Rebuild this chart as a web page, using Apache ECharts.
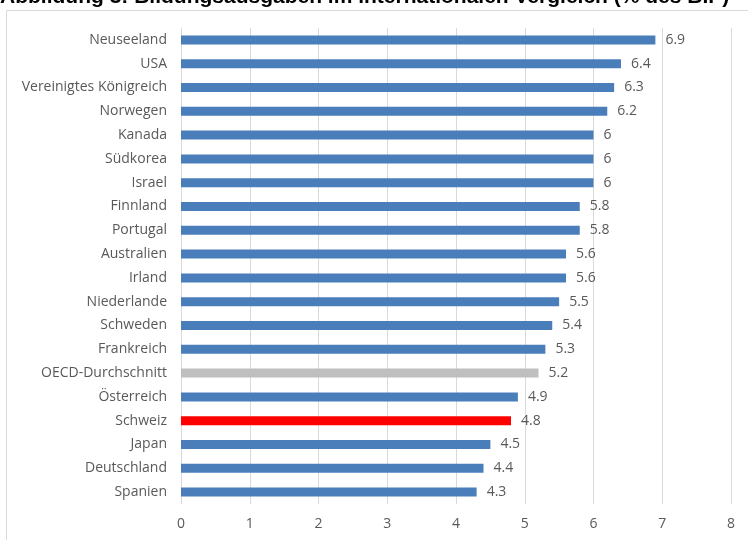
<!DOCTYPE html>
<html><head><meta charset="utf-8">
<script src="https://cdn.jsdelivr.net/npm/echarts@6/dist/echarts.min.js"></script>
<style>html,body{margin:0;padding:0;background:#fff}#c{width:748px;height:540px}</style>
</head><body><div id="c"></div>
<script>
const titleText = "Abbildung 3: Bildungsausgaben im internationalen Vergleich (% des BIP)";
const categories = ["Neuseeland","USA","Vereinigtes Königreich","Norwegen","Kanada","Südkorea","Israel","Finnland","Portugal","Australien","Irland","Niederlande","Schweden","Frankreich","OECD-Durchschnitt","Österreich","Schweiz","Japan","Deutschland","Spanien"];
const values = [6.9,6.4,6.3,6.2,6,6,6,5.8,5.8,5.6,5.6,5.5,5.4,5.3,5.2,4.9,4.8,4.5,4.4,4.3];
const xTicks = [0,1,2,3,4,5,6,7,8];
const specialColors = {"OECD-Durchschnitt":"#bfbfbf","Schweiz":"#ff0000"};
const baseColor = "#4a7ebb";

const chart = echarts.init(document.getElementById('c'));
const font = "Open Sans, Liberation Sans, sans-serif";
chart.setOption({
  animation:false,
  graphic:[
    {type:'rect',shape:{x:6.5,y:10.5,width:800,height:600},style:{fill:'none',stroke:'#d9d9d9',lineWidth:1},z:-1},
    {type:'text',x:0,y:8,style:{text:titleText,font:'bold 21px Liberation Sans, Arial, sans-serif',fill:'#000',textVerticalAlign:'bottom'}}
  ],
  grid:{left:181,right:17,top:28,bottom:36},
  xAxis:{type:'value',min:xTicks[0],max:xTicks[xTicks.length-1],interval:1,
    axisLine:{show:false},axisTick:{show:false},
    splitLine:{lineStyle:{color:'#d9d9d9'}},
    axisLabel:{color:'#595959',fontSize:14,fontFamily:font,margin:13}},
  yAxis:{type:'category',data:categories,inverse:true,
    axisLine:{show:true,lineStyle:{color:'#d9d9d9'}},axisTick:{show:false},
    axisLabel:{color:'#595959',fontSize:14,fontFamily:font,margin:14}},
  series:[{type:'bar',barWidth:9,
    data:values.map((v,i)=>({value:v,itemStyle:{color:specialColors[categories[i]]||baseColor}})),
    label:{show:true,position:'right',distance:10,color:'#595959',fontSize:14,fontFamily:font}}]
});
</script></body></html>
